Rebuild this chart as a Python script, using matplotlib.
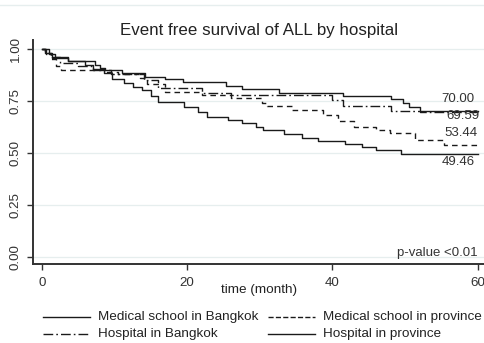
import matplotlib
matplotlib.use("Agg")
import matplotlib.pyplot as plt
from matplotlib.lines import Line2D

plt.rcParams['font.family'] = ['Liberation Sans', 'DejaVu Sans']

# ---- data ----
med_bkk_t = [0, 1, 1.8, 3.6, 7.3, 8.0, 8.7, 11.1, 14.2, 17, 19.4, 25.4, 27.5, 32.7, 41.4, 48, 49.7, 50.6, 52, 60]
med_bkk_s = [1.0, 0.975, 0.96, 0.944, 0.923, 0.91, 0.90, 0.883, 0.863, 0.856, 0.843, 0.824, 0.806, 0.79, 0.772, 0.758, 0.742, 0.723, 0.70, 0.70]

med_prov_t = [0, 0.5, 1.2, 2.0, 2.7, 8.5, 10.5, 13.5, 14.5, 17, 22, 26, 30.3, 31, 34.4, 38.7, 40.7, 43, 46, 47.9, 51.3, 55.4, 60]
med_prov_s = [1.0, 0.98, 0.95, 0.92, 0.90, 0.89, 0.88, 0.86, 0.83, 0.795, 0.78, 0.763, 0.739, 0.726, 0.707, 0.683, 0.655, 0.627, 0.61, 0.595, 0.563, 0.538, 0.534]

hosp_bkk_t = [0, 0.6, 1.4, 2.5, 5, 7, 9.5, 14, 16, 22, 26, 40, 41.5, 48, 52, 60]
hosp_bkk_s = [1.0, 0.976, 0.963, 0.934, 0.92, 0.90, 0.88, 0.85, 0.81, 0.79, 0.78, 0.755, 0.726, 0.70, 0.696, 0.696]

hosp_prov_t = [0, 0.5, 1.4, 3.6, 6, 7, 8.6, 9.7, 11.3, 12.6, 13.8, 15, 16, 19.6, 21.5, 22.8, 25.6, 27.5, 29.5, 30.5, 33.4, 35.8, 38, 41.7, 44, 46, 49.5, 60]
hosp_prov_s = [1.0, 0.98, 0.956, 0.94, 0.923, 0.903, 0.885, 0.856, 0.838, 0.819, 0.803, 0.775, 0.747, 0.723, 0.697, 0.675, 0.658, 0.643, 0.627, 0.61, 0.59, 0.572, 0.558, 0.543, 0.53, 0.514, 0.495, 0.495]

series_labels = ["Medical school in Bangkok", "Medical school in province",
                 "Hospital in Bangkok", "Hospital in province"]
end_labels = ["70.00", "69.59", "53.44", "49.46"]
end_label_y = [0.76, 0.678, 0.596, 0.457]
end_label_x = [59.6, 60.3, 60.0, 59.6]

x_ticks = [0, 20, 40, 60]
y_ticks = [0.0, 0.25, 0.5, 0.75, 1.0]
y_ticklabels = ["0.00", "0.25", "0.50", "0.75", "1.00"]

# ---- figure ----
W, H = 485, 343
fig = plt.figure(figsize=(W / 100, H / 100), dpi=100)
fig.patch.set_facecolor('white')
ax = fig.add_axes([33 / W, 1 - 264 / H, 452 / W, (264 - 40) / H])

lc = '#1a1a1a'
lw = 1.0
dashdot = (0, (7, 2.2, 1.2, 2.2))
dashed = (0, (4, 3))

l1, = ax.step(med_bkk_t, med_bkk_s, where='post', color=lc, lw=lw, linestyle='-')
l2, = ax.step(med_prov_t, med_prov_s, where='post', color=lc, lw=lw, linestyle=dashed)
l3, = ax.step(hosp_bkk_t, hosp_bkk_s, where='post', color=lc, lw=lw, linestyle=dashdot)
l4, = ax.step(hosp_prov_t, hosp_prov_s, where='post', color=lc, lw=lw, linestyle='-')

for txt, xx, yy in zip(end_labels, end_label_x, end_label_y):
    ax.text(xx, yy, txt, ha='right', va='center', fontsize=9.5, color='#333333')

ax.text(60, 0.02, "p-value <0.01", ha='right', va='center', fontsize=9.5, color='#333333')

ax.set_xlim(-1.22, 61)
ax.set_ylim(-0.034, 1.043)
ax.set_xticks(x_ticks)
ax.set_xticklabels([str(v) for v in x_ticks])
ax.set_yticks(y_ticks)
ax.set_yticklabels(y_ticklabels, rotation=90, va='center')
ax.tick_params(axis='both', labelsize=9.6, colors='#333333', length=4, width=1, direction='out')
ax.tick_params(axis='x', pad=5)
ax.tick_params(axis='y', pad=4)

for s in ['top', 'right']:
    ax.spines[s].set_visible(False)
for s in ['left', 'bottom']:
    ax.spines[s].set_color('#333333')
    ax.spines[s].set_linewidth(1.4)

ax.yaxis.grid(True, color='#e6eeee', linewidth=0.9)
ax.set_axisbelow(True)

ax.set_xlabel("time (month)", fontsize=9.7, color='#222222', labelpad=-3)

fig.text(259 / W, 1 - 30 / H, "Event free survival of ALL by hospital",
         ha='center', va='center', fontsize=12.2, color='#222222')

# faint top border line
fig.add_artist(Line2D([0, 1], [1 - 5 / H, 1 - 5 / H], transform=fig.transFigure,
                      color='#e6eeee', lw=1))

# legend (two columns, row order as in the reference)
leg_handles = [l1, l2, l3, l4]
leg_cols = [(43, 90, 98), (268, 315, 323), (43, 90, 98), (268, 315, 323)]
leg_rows = [317, 317, 334, 334]
for h, lab, (x0, x1, xt), yy in zip(leg_handles, series_labels, leg_cols, leg_rows):
    fy = 1 - yy / H
    fig.add_artist(Line2D([x0 / W, x1 / W], [fy, fy], transform=fig.transFigure,
                          color=lc, lw=lw, linestyle=h.get_linestyle() if h is not l3 else dashdot))
    fig.text(xt / W, fy, lab, ha='left', va='center', fontsize=9.7, color='#222222')

fig.savefig("out.png", dpi=100, facecolor='white')
